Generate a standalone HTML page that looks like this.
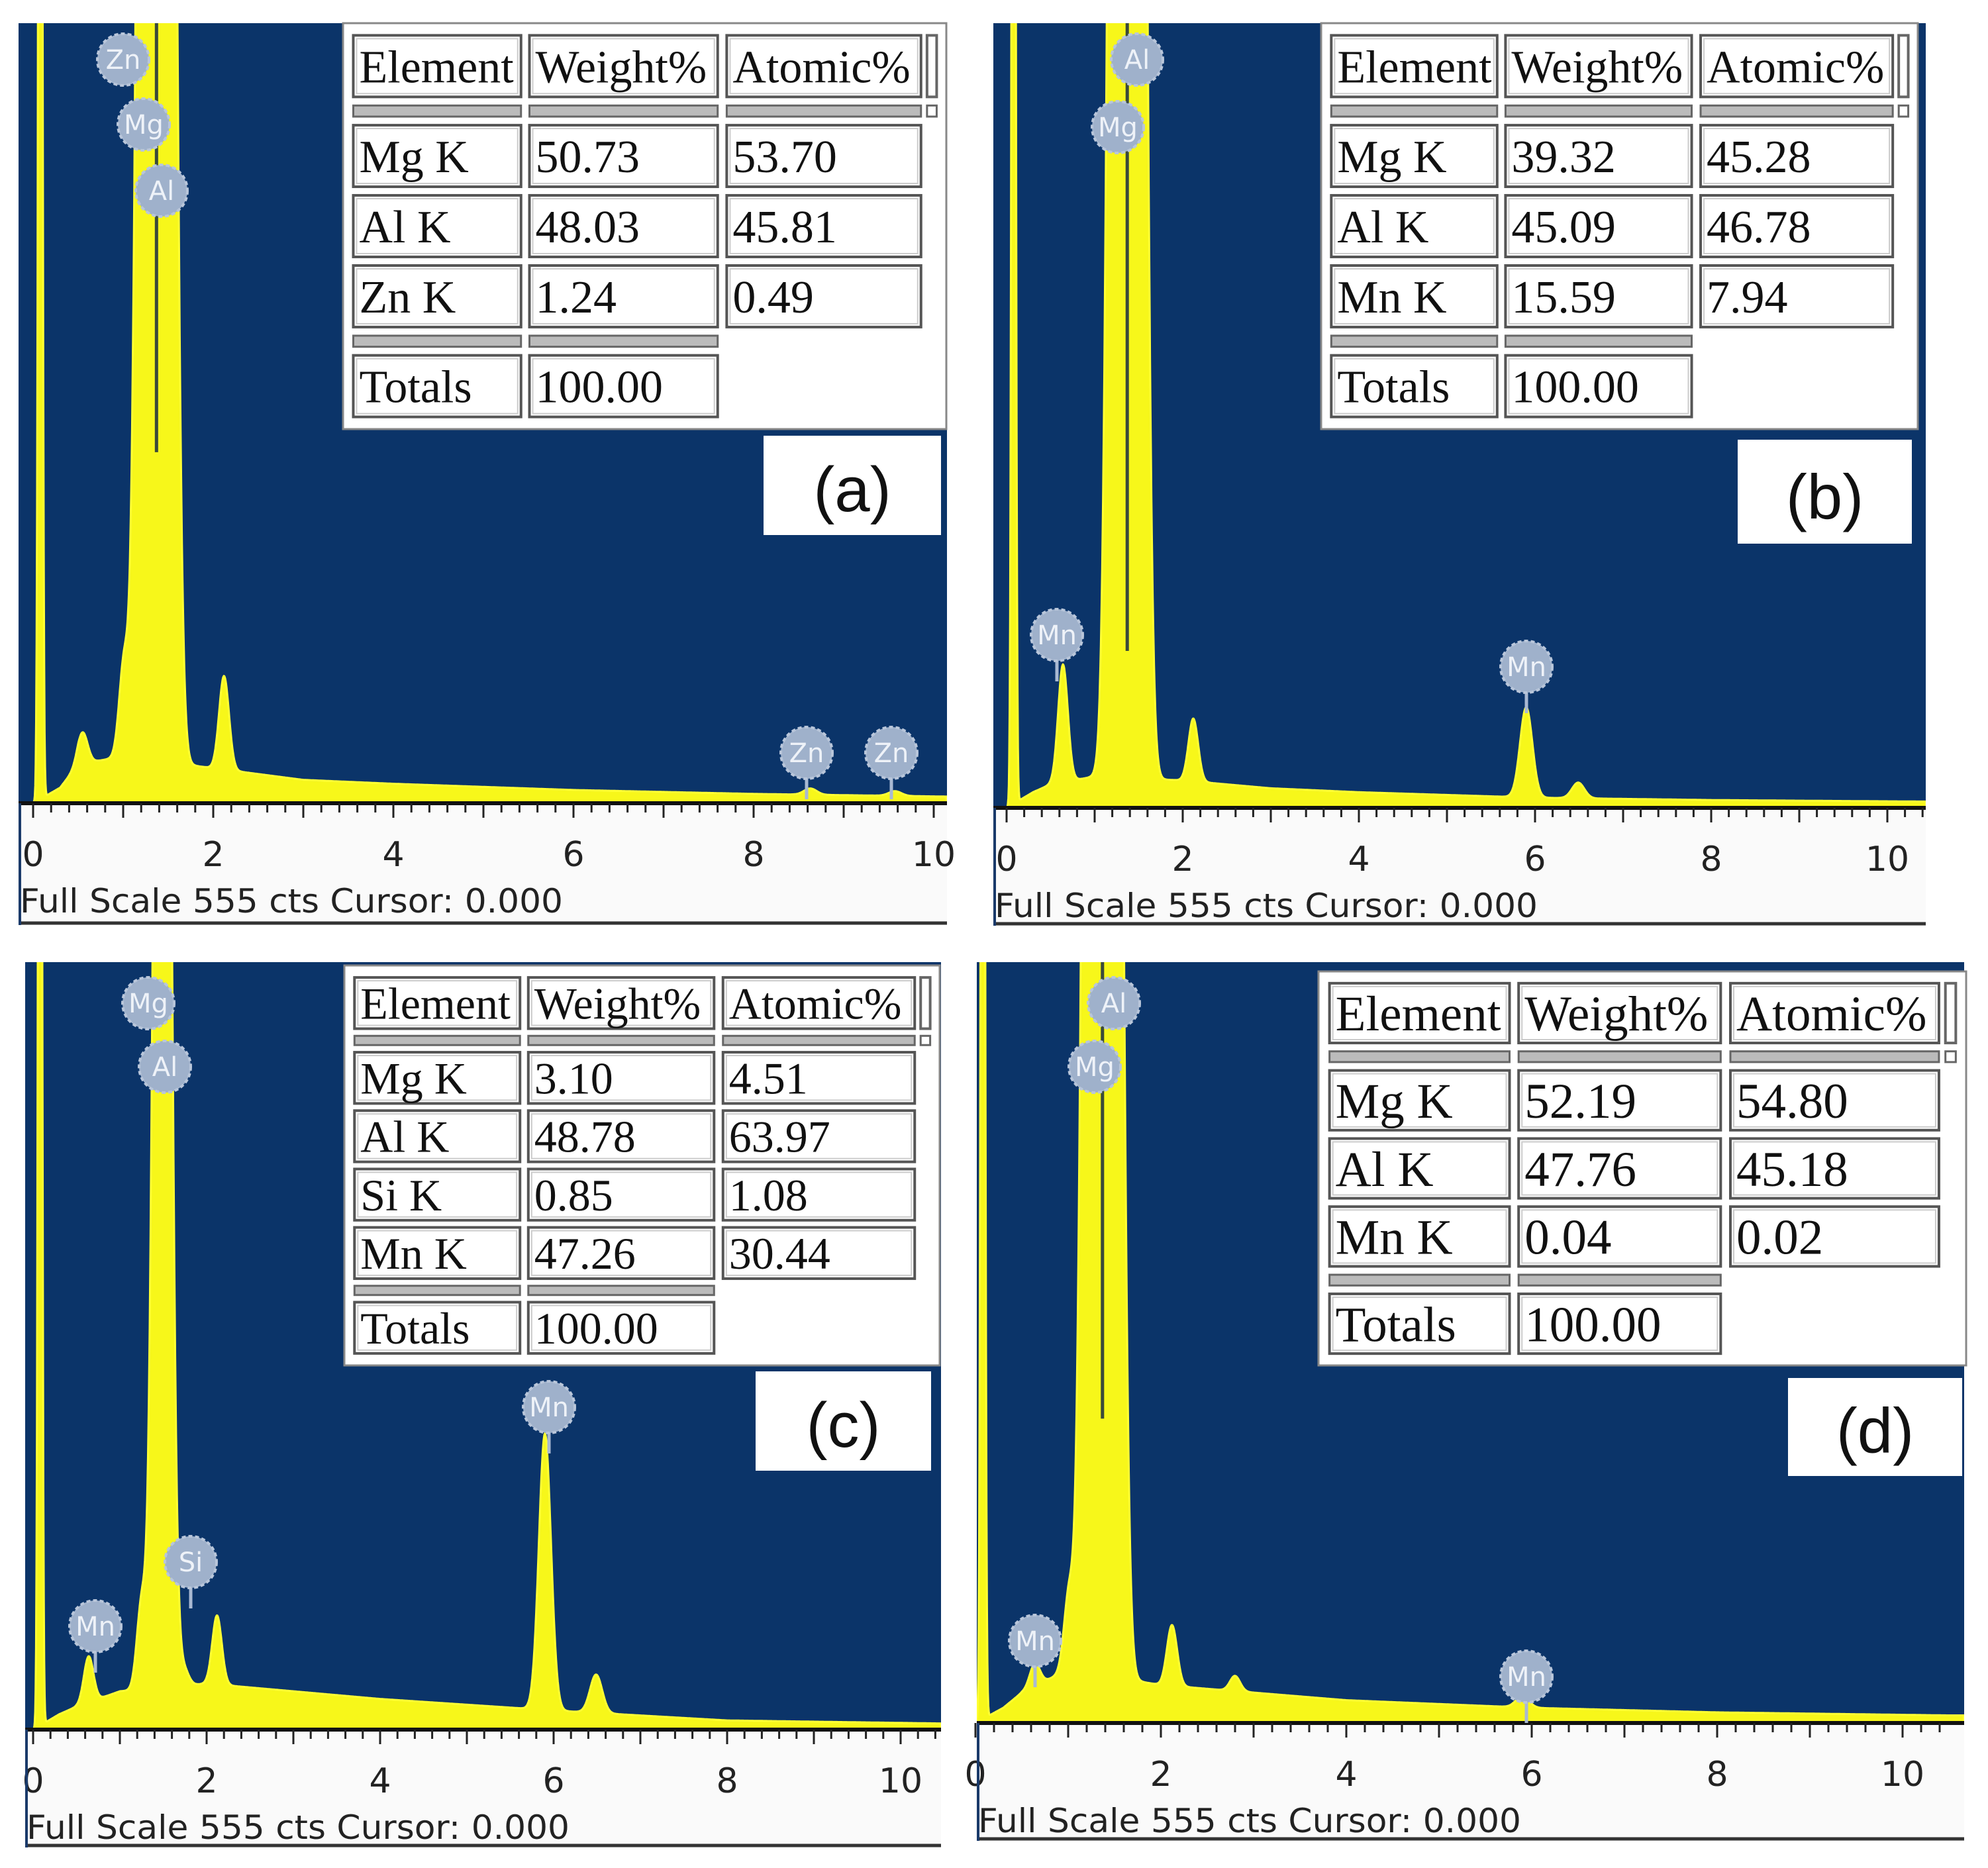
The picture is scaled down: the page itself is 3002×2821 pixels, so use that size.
<!DOCTYPE html>
<html><head><meta charset="utf-8"><style>
html,body{margin:0;padding:0;background:#fff;}
svg{display:block;}
</style></head><body>
<svg id="fig" xmlns="http://www.w3.org/2000/svg" width="3002" height="2821" viewBox="0 0 3002 2821">
<rect x="0" y="0" width="3002" height="2821" fill="#ffffff"/>
</svg>
<script>
// ---- data ----
const peakEA = [0.08, 1.01, 1.25, 1.49, 2.12, 0.55, 8.63, 9.57];
const peakHA = [3.0, 0.12, 3.0, 3.0, 0.12, 0.04, 0.008, 0.006];
const bgEA = [0, 0.3, 0.5, 1.0, 2.0, 3.0, 4.0, 6.0, 8.0, 10.5];
const bgVA = [0.0, 0.02, 0.05, 0.06, 0.045, 0.03, 0.025, 0.017, 0.012, 0.008];

const peakEB = [0.08, 0.64, 1.25, 1.49, 2.12, 5.90, 6.49];
const peakHB = [3.0, 0.15, 3.0, 3.0, 0.08, 0.115, 0.02];
const bgEB = [0, 0.3, 0.5, 1.0, 2.0, 3.0, 4.0, 6.0, 8.0, 10.5];
const bgVB = [0.0, 0.02, 0.03, 0.04, 0.035, 0.025, 0.02, 0.013, 0.01, 0.008];

const peakEC = [0.08, 0.64, 1.25, 1.49, 2.12, 5.90, 6.49, 1.74];
const peakHC = [3.0, 0.06, 0.11, 3.0, 0.09, 0.36, 0.05, 0.02];
const bgEC = [0, 0.3, 0.5, 1.0, 2.0, 3.0, 4.0, 6.0, 8.0, 10.5];
const bgVC = [0.0, 0.02, 0.03, 0.05, 0.06, 0.05, 0.04, 0.025, 0.012, 0.008];

const peakED = [0.08, 0.64, 1.01, 1.25, 1.49, 2.12, 2.8, 5.90];
const peakHD = [3.0, 0.03, 0.1, 3.0, 3.0, 0.08, 0.02, 0.015];
const bgED = [0, 0.3, 0.5, 1.0, 2.0, 3.0, 4.0, 6.0, 8.0, 10.5];
const bgVD = [0.0, 0.02, 0.04, 0.07, 0.05, 0.04, 0.03, 0.02, 0.014, 0.01];

const tickLabels = ["0","2","4","6","8","10"];
const tickValues = [0,2,4,6,8,10];

const tableA = [["Mg K","50.73","53.70"],["Al K","48.03","45.81"],["Zn K","1.24","0.49"]];
const tableB = [["Mg K","39.32","45.28"],["Al K","45.09","46.78"],["Mn K","15.59","7.94"]];
const tableC = [["Mg K","3.10","4.51"],["Al K","48.78","63.97"],["Si K","0.85","1.08"],["Mn K","47.26","30.44"]];
const tableD = [["Mg K","52.19","54.80"],["Al K","47.76","45.18"],["Mn K","0.04","0.02"]];
const totals = "100.00";

const markersA = [["Zn",1.01,"top"],["Mg",1.25,"top"],["Al",1.49,"top"],["Zn",8.63,"low"],["Zn",9.57,"low"]];
const markersB = [["Al",1.49,"top"],["Mg",1.25,"top"],["Mn",0.64,"low"],["Mn",5.90,"low"]];
const markersC = [["Mg",1.25,"top"],["Al",1.49,"top"],["Si",1.74,"low"],["Mn",0.64,"low"],["Mn",5.90,"low"]];
const markersD = [["Al",1.49,"top"],["Mg",1.25,"top"],["Mn",0.64,"low"],["Mn",5.90,"low"]];

// ---- layout ----
const NS="http://www.w3.org/2000/svg";
const svg=document.getElementById('fig');
function mk(tag,attrs,parent){const e=document.createElementNS(NS,tag);for(const k in attrs)e.setAttribute(k,attrs[k]);(parent||svg).appendChild(e);return e;}

const panels=[
 {id:"a",x0:28,x1:1430,top:35,base:1213,bottom:1397,zx:50,ppk:136,pe:peakEA,ph:peakHA,be:bgEA,bv:bgVA,tb:tableA,tbox:[518,35,1429,648],lbox:[1153,658,1421,808],mk:markersA,fsz:70,split:0.55,
  mpos:[[186,90],[217,188],[244,288],[1218,1137],[1346,1137]]},
 {id:"b",x0:1500,x1:2908,top:35,base:1220,bottom:1398,zx:1520,ppk:133,pe:peakEB,ph:peakHB,be:bgEB,bv:bgVB,tb:tableB,tbox:[1995,35,2896,648],lbox:[2624,664,2887,821],mk:markersB,fsz:70,split:0.8,
  mpos:[[1717,90],[1688,192],[1596,959],[2305,1007]]},
 {id:"c",x0:38,x1:1421,top:1453,base:2612,bottom:2790,zx:50,ppk:131,pe:peakEC,ph:peakHC,be:bgEC,bv:bgVC,tb:tableC,tbox:[520,1458,1419,2062],lbox:[1141,2071,1406,2221],mk:markersC,fsz:68,split:0,
  mpos:[[224,1515],[249,1611],[288,2359],[144,2456],[829,2125]]},
 {id:"d",x0:1475,x1:2966,top:1453,base:2602,bottom:2780,zx:1473,ppk:140,pe:peakED,ph:peakHD,be:bgED,bv:bgVD,tb:tableD,tbox:[1991,1467,2969,2062],lbox:[2700,2081,2963,2229],mk:markersD,fsz:75,split:0.6,
  mpos:[[1682,1515],[1653,1611],[1563,2478],[2305,2532]]}
];

function bgAt(be,bv,E){
  if(E<=be[0])return bv[0];
  for(let i=1;i<be.length;i++){if(E<=be[i]){const t=(E-be[i-1])/(be[i]-be[i-1]);return bv[i-1]+t*(bv[i]-bv[i-1]);}}
  return bv[bv.length-1];
}

panels.forEach(p=>{
  const g=mk('g',{});
  
  
  const xs=E=>p.zx+E*p.ppk;
  const ys=v=>p.base-v*(p.base-p.top);
  const bg=mk('rect',{x:p.x0,y:p.top,width:p.x1-p.x0,height:p.base-p.top,fill:"#0b3469"},g);
  
  
  mk('rect',{x:p.x0,y:p.base,width:p.x1-p.x0,height:p.bottom-p.base,fill:"#fafafa"},g);
  const cp=mk('clipPath',{id:'clip'+p.id},g);
  mk('rect',{x:p.x0,y:p.top,width:p.x1-p.x0,height:p.base-p.top},cp);
  let d="M"+p.x0+","+p.base;
  const eMax=(p.x1-p.zx)/p.ppk;
  for(let E=(p.x0-p.zx)/p.ppk;E<=eMax;E+=0.005){
    let v=bgAt(p.be,p.bv,E);
    for(let i=0;i<p.pe.length;i++){
      let s=(p.pe[i]>4?0.07:0.055);
      if(i===0)s=0.018; else if(p.ph[i]>=1)s=0.075;
      v+=p.ph[i]*Math.exp(-((E-p.pe[i])**2)/(2*s*s));
    }
    d+=" L"+xs(E).toFixed(1)+","+ys(v).toFixed(1);
  }
  d+=" L"+p.x1+","+p.base+" Z";
  const sp=mk('path',{d:d,fill:"#f7f71a",stroke:"#ffff33","stroke-width":3,"clip-path":"url(#clip"+p.id+")"},g);
  
  
  if(p.split>0){
    const xm=xs(1.37);
    const sl=mk('line',{x1:xm,y1:p.top,x2:xm,y2:p.top+(p.base-p.top)*p.split,stroke:"#3a4a3a",'stroke-width':5},g);
    
    
  }
  mk('line',{x1:p.x0,y1:p.base,x2:p.x1,y2:p.base,stroke:"#111",'stroke-width':6},g);
  for(let k=0;k<=52;k++){
    const E=k*0.2;const x=xs(E);if(x>p.x1-3)break;
    const major=(k%5===0);
    mk('line',{x1:x,y1:p.base,x2:x,y2:p.base+(major?22:14),stroke:"#222",'stroke-width':3},g);
  }
  tickValues.forEach((v,i)=>{
    const t=mk('text',{x:xs(v),y:p.base+95,'text-anchor':'middle','font-family':'"DejaVu Sans", "Liberation Sans", sans-serif','font-size':52,fill:"#222"},g);
    t.textContent=tickLabels[i];
    
    
  });
  const fs=mk('text',{x:p.x0+2,y:p.base+165,'font-family':'"DejaVu Sans", "Liberation Sans", sans-serif','font-size':50,fill:"#222",textLength:820,lengthAdjust:"spacingAndGlyphs"},g);
  fs.textContent="Full Scale 555 cts Cursor: 0.000";
  
  
  mk('line',{x1:p.x0,y1:p.bottom-3,x2:p.x1,y2:p.bottom-3,stroke:"#333",'stroke-width':5},g);
  mk('line',{x1:p.x0+2,y1:p.base,x2:p.x0+2,y2:p.bottom,stroke:"#1a3a6a",'stroke-width':4},g);
  p.mk.forEach((m,i)=>{
    const [cx,cy]=p.mpos[i];
    const mg=mk('g',{},g);
    
    
    if(m[2]==="low"){
      mk('line',{x1:cx,y1:cy+38,x2:cx,y2:cy+70,stroke:"#a9b9d2",'stroke-width':5},mg);
    }
    mk('circle',{cx:cx,cy:cy,r:39,fill:"#9fb1cb",stroke:"#b9c6da",'stroke-width':4,'stroke-dasharray':"6 4"},mg);
    const t=mk('text',{x:cx,y:cy+14,'text-anchor':'middle','font-family':'"DejaVu Sans", sans-serif','font-size':40,fill:"#eef2f8"},mg);
    t.textContent=m[0];
  });
  const [tx0,ty0,tx1,ty1]=p.tbox;const tw=tx1-tx0,th=ty1-ty0;
  const tg=mk('g',{},g);
  
  
  mk('rect',{x:tx0,y:ty0,width:tw,height:th,fill:"#fff",stroke:"#888",'stroke-width':3},tg);
  const cols=[[.017,.295],[.309,.621],[.636,.958]];
  const nr=p.tb.length;
  const sepU=0.18,gapU=0.14;
  const units=1+gapU+sepU+gapU+nr+(nr-1)*gapU+gapU+sepU+gapU+1;
  const mT=th*0.03,mB=th*0.03;
  const u=(th-mT-mB)/units;
  const fsz=p.fsz;
  let y=ty0+mT;
  function cell(cx0,cx1,yy,h,txt,name){
    mk('rect',{x:tx0+cx0*tw,y:yy,width:(cx1-cx0)*tw,height:h,fill:"#fff",stroke:"#555",'stroke-width':4},tg);
    mk('rect',{x:tx0+cx0*tw+5,y:yy+5,width:(cx1-cx0)*tw-10,height:h-10,fill:"none",stroke:"#ccc",'stroke-width':2},tg);
    if(txt!==null){const t=mk('text',{x:tx0+cx0*tw+9,y:yy+h*0.5+fsz*0.35,'font-family':'"Liberation Serif", serif','font-size':fsz,fill:"#111"},tg);t.textContent=txt;
      
      }
  }
  function sep(yy,n){for(let c=0;c<n;c++)mk('rect',{x:tx0+cols[c][0]*tw,y:yy,width:(cols[c][1]-cols[c][0])*tw,height:u*sepU,fill:"#bbb",stroke:"#666",'stroke-width':3},tg);}
  ["Element","Weight%","Atomic%"].forEach((h,c)=>cell(cols[c][0],cols[c][1],y,u,h,'table-header'));
  mk('rect',{x:tx0+0.968*tw,y:y,width:0.016*tw,height:u,fill:"#fff",stroke:"#666",'stroke-width':4},tg);
  mk('rect',{x:tx0+0.968*tw,y:y+u+gapU*u,width:0.016*tw,height:u*sepU,fill:"#fff",stroke:"#666",'stroke-width':3},tg);
  y+=u+gapU*u; sep(y,3); y+=u*sepU+gapU*u;
  p.tb.forEach(r=>{r.forEach((v,c)=>cell(cols[c][0],cols[c][1],y,u,v,'table-cell'));y+=u+gapU*u;});
  sep(y,2); y+=u*sepU+gapU*u;
  cell(cols[0][0],cols[0][1],y,u,"Totals",'table-cell');
  cell(cols[1][0],cols[1][1],y,u,totals,'table-cell');
  const [lx0,ly0,lx1,ly1]=p.lbox;
  mk('rect',{x:lx0,y:ly0,width:lx1-lx0,height:ly1-ly0,fill:"#fff"},g);
  const lt=mk('text',{x:(lx0+lx1)/2,y:ly0+(ly1-ly0)*0.76,'text-anchor':'middle','font-family':'"Liberation Sans", sans-serif','font-size':96,fill:"#111"},g);
  lt.textContent="("+p.id+")";
  
  
});
</script>
</body></html>
